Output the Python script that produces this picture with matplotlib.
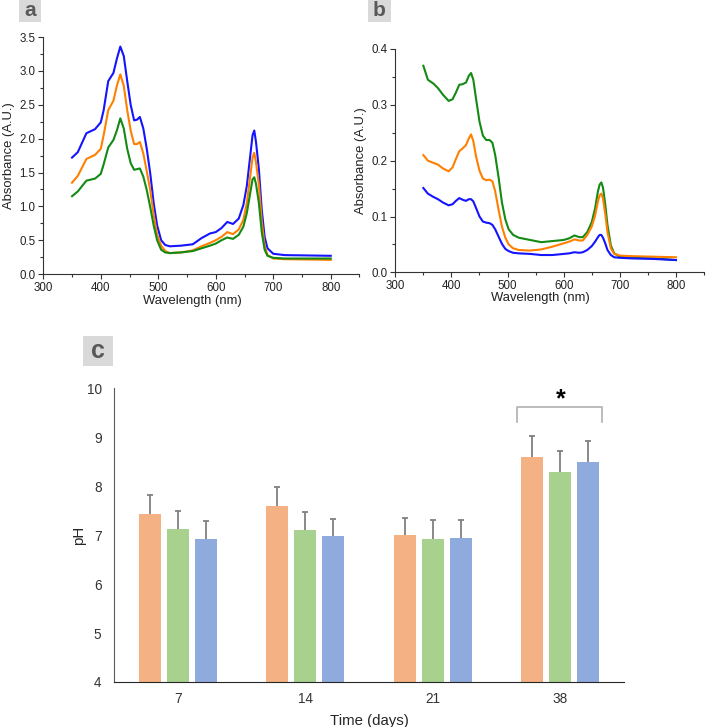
import matplotlib
matplotlib.use('Agg')
from matplotlib import pyplot as plt
from matplotlib.ticker import MultipleLocator
from matplotlib.patches import Rectangle

plt.rcParams['font.family'] = ['Liberation Sans', 'DejaVu Sans']

# panel a - absorbance spectra
wl_a = [350, 360, 375, 390, 400, 405, 413, 422, 428, 434, 440, 446, 452, 458, 463, 468, 474, 480, 486, 492,
        498, 505, 512, 520, 540, 560, 575, 590, 600, 610, 620, 630, 640, 648, 654, 660, 664, 667, 670, 675,
        680, 685, 690, 700, 720, 800]
blue_a = [1.72, 1.80, 2.08, 2.14, 2.24, 2.42, 2.85, 2.97, 3.18, 3.36, 3.22, 2.85, 2.50, 2.27, 2.28, 2.32, 2.15, 1.85,
          1.49, 1.05, 0.72, 0.50, 0.43, 0.41, 0.42, 0.44, 0.53, 0.60, 0.62, 0.68, 0.77, 0.74, 0.82, 1.02, 1.30, 1.75,
          2.05, 2.12, 1.95, 1.55, 0.95, 0.55, 0.38, 0.30, 0.28, 0.27]
orange_a = [1.35, 1.45, 1.70, 1.76, 1.85, 2.05, 2.42, 2.56, 2.78, 2.95, 2.78, 2.42, 2.12, 1.92, 1.92, 1.95, 1.78, 1.52,
            1.24, 0.88, 0.58, 0.42, 0.34, 0.31, 0.32, 0.35, 0.41, 0.46, 0.50, 0.55, 0.62, 0.59, 0.66, 0.80, 1.05, 1.45,
            1.72, 1.79, 1.65, 1.32, 0.78, 0.42, 0.28, 0.23, 0.22, 0.21]
green_a = [1.15, 1.22, 1.38, 1.41, 1.48, 1.62, 1.87, 1.98, 2.12, 2.30, 2.15, 1.85, 1.64, 1.54, 1.55, 1.56, 1.44, 1.24,
           0.99, 0.72, 0.50, 0.36, 0.32, 0.31, 0.32, 0.34, 0.38, 0.42, 0.45, 0.50, 0.54, 0.52, 0.58, 0.70, 0.90, 1.20,
           1.40, 1.43, 1.33, 1.05, 0.62, 0.36, 0.27, 0.24, 0.23, 0.23]

# panel b
wl_b = [350, 358, 368, 376, 385, 395, 402, 408, 414, 420, 426, 431, 435, 439, 444, 450, 456, 462, 468, 473,
        478, 484, 490, 496, 502, 510, 520, 540, 560, 580, 600, 610, 619, 628, 634, 642, 650, 656, 661, 664,
        667, 670, 674, 678, 684, 690, 700, 720, 760, 800]
green_b = [0.370, 0.345, 0.338, 0.330, 0.318, 0.307, 0.310, 0.322, 0.336, 0.337, 0.340, 0.352, 0.357, 0.345, 0.310,
           0.270, 0.245, 0.237, 0.237, 0.232, 0.210, 0.170, 0.125, 0.095, 0.077, 0.067, 0.062, 0.058, 0.054, 0.056,
           0.058, 0.061, 0.066, 0.063, 0.063, 0.072, 0.090, 0.115, 0.145, 0.157, 0.161, 0.152, 0.122, 0.085, 0.048,
           0.034, 0.028, 0.026, 0.025, 0.022]
orange_b = [0.210, 0.200, 0.196, 0.193, 0.186, 0.181, 0.188, 0.203, 0.217, 0.222, 0.228, 0.240, 0.247, 0.235, 0.207,
            0.182, 0.168, 0.165, 0.166, 0.163, 0.145, 0.112, 0.082, 0.062, 0.050, 0.043, 0.040, 0.039, 0.041, 0.046,
            0.052, 0.055, 0.059, 0.057, 0.057, 0.067, 0.082, 0.102, 0.127, 0.138, 0.141, 0.132, 0.105, 0.072, 0.043,
            0.033, 0.030, 0.029, 0.028, 0.027]
blue_b = [0.151, 0.141, 0.135, 0.131, 0.125, 0.120, 0.122, 0.128, 0.133, 0.130, 0.128, 0.131, 0.131, 0.127, 0.115,
          0.100, 0.091, 0.089, 0.088, 0.085, 0.077, 0.064, 0.051, 0.042, 0.038, 0.035, 0.034, 0.033, 0.031, 0.031,
          0.033, 0.034, 0.036, 0.035, 0.036, 0.040, 0.047, 0.055, 0.063, 0.067, 0.067, 0.062, 0.052, 0.040, 0.031,
          0.027, 0.026, 0.025, 0.024, 0.022]

# panel c - pH
days = ['7', '14', '21', '38']
ph_orange = [7.43, 7.60, 7.00, 8.60]
ph_green = [7.13, 7.10, 6.93, 8.30]
ph_blue = [6.92, 6.98, 6.94, 8.50]
err_orange = [0.38, 0.38, 0.36, 0.43]
err_green = [0.36, 0.37, 0.37, 0.42]
err_blue = [0.36, 0.36, 0.36, 0.43]

fig = plt.figure(figsize=(7.06, 7.27), dpi=100)

ax_a = fig.add_axes([0.0613, 0.623, 0.4479, 0.326])
ax_b = fig.add_axes([0.5599, 0.6254, 0.4373, 0.3072])

ax_a.plot(wl_a, blue_a, color='#1414ff', lw=1.5)
ax_a.plot(wl_a, orange_a, color='#ff8000', lw=1.5)
ax_a.plot(wl_a, green_a, color='#138a13', lw=1.5)
ax_a.set_ylim(0, 3.5)
ax_a.yaxis.set_major_locator(MultipleLocator(0.5))
ax_a.yaxis.set_minor_locator(MultipleLocator(0.25))
ax_a.set_yticklabels(['%.1f' % v for v in ax_a.get_yticks()])

ax_b.plot(wl_b, green_b, color='#138a13', lw=1.5)
ax_b.plot(wl_b, orange_b, color='#ff8000', lw=1.5)
ax_b.plot(wl_b, blue_b, color='#1414ff', lw=1.5)
ax_b.set_ylim(0, 0.4)
ax_b.yaxis.set_major_locator(MultipleLocator(0.1))
ax_b.yaxis.set_minor_locator(MultipleLocator(0.05))
ax_b.set_yticks([0, 0.1, 0.2, 0.3, 0.4])
ax_b.set_yticklabels(['0.0', '0.1', '0.2', '0.3', '0.4'])

for ax in (ax_a, ax_b):
    ax.set_xlim(300, 850)
    ax.xaxis.set_major_locator(MultipleLocator(100))
    ax.xaxis.set_minor_locator(MultipleLocator(50))
    ax.set_xticks([300, 400, 500, 600, 700, 800])
    ax.spines['top'].set_visible(False)
    ax.spines['right'].set_visible(False)
    ax.spines['left'].set_color('#333333')
    ax.spines['bottom'].set_color('#333333')
    ax.tick_params(which='major', length=3.5, width=0.8, color='#333333', labelsize=8.3, labelcolor='#222222', pad=2)
    ax.tick_params(which='minor', length=2.5, width=0.8, color='#333333')
    ax.set_xlabel('Wavelength (nm)', fontsize=9.4, labelpad=5, color='#222222')
    ax.set_ylabel('Absorbance (A.U.)', fontsize=9.4, labelpad=3, color='#222222')
    ax.xaxis.set_label_coords(0.47, -0.09)

# panel c bars
ax_c = fig.add_axes([0.1615, 0.0619, 0.7224, 0.404])
x = list(range(len(days)))
w = 0.175
off = 0.22
series = [([i - off for i in x], ph_orange, err_orange, '#F4B183'),
          (x, ph_green, err_green, '#A9D18E'),
          ([i + off for i in x], ph_blue, err_blue, '#8FAADC')]
for pos, vals, errs, col in series:
    ax_c.bar(pos, vals, w, color=col)
    tops = [v + e for v, e in zip(vals, errs)]
    # upper error bar only, as in the original
    ax_c.vlines(pos, vals, tops, color='#808080', lw=1.3)
    ax_c.plot(pos, tops, ls='none', marker='_', ms=5, mew=1.3, color='#808080')

ax_c.set_ylim(4, 10)
ax_c.set_xlim(-0.5, 3.5)
ax_c.set_xticks(x)
ax_c.set_xticklabels(days)
ax_c.set_yticks([4, 5, 6, 7, 8, 9, 10])
ax_c.spines['top'].set_visible(False)
ax_c.spines['right'].set_visible(False)
ax_c.spines['left'].set_color('#595959')
ax_c.spines['bottom'].set_color('#262626')
ax_c.tick_params(length=0, labelsize=9.8, labelcolor='#333333')
ax_c.tick_params(axis='y', pad=9)
ax_c.tick_params(axis='x', pad=7)
ax_c.set_xlabel('Time (days)', fontsize=10.8, color='#262626', labelpad=6)
ax_c.set_ylabel('pH', fontsize=10.8, color='#262626', labelpad=0)

# significance bracket over day 38
ax_c.plot([3 - 0.337, 3 - 0.337, 3 + 0.33, 3 + 0.33], [9.31, 9.62, 9.62, 9.31], color='#b0b0b0', lw=1.2,
          solid_joinstyle='round')
ax_c.text(3, 9.78, '*', ha='center', va='center', fontsize=18, fontweight='bold', color='black')

# panel letters
for (x0, y0, w0, h0, letter, fs) in [(19, 0, 22, 22, 'a', 15), (368, 0, 23, 22, 'b', 15), (83, 336, 30, 30, 'c', 18)]:
    fig.add_artist(Rectangle((x0 / 706, 1 - (y0 + h0) / 727), w0 / 706, h0 / 727,
                             transform=fig.transFigure, facecolor='#d9d9d9', edgecolor='none'))
    fig.text((x0 + w0 / 2) / 706, 1 - (y0 + h0 / 2) / 727, letter, ha='center', va='center',
             fontsize=fs, fontweight='bold', color='#595959')

plt.savefig('out.png', dpi=100)
